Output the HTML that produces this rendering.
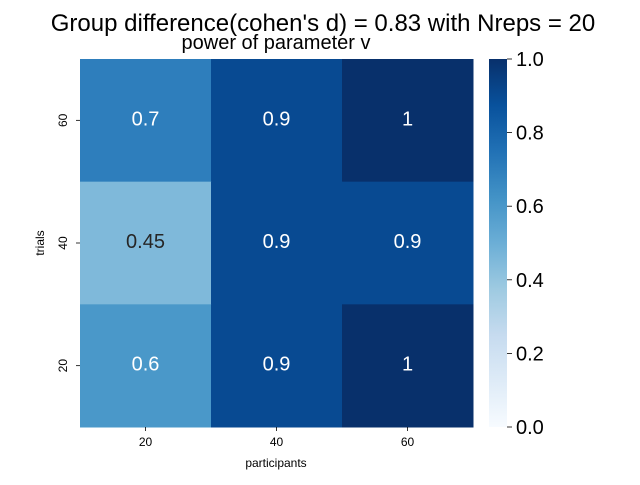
<!DOCTYPE html>
<html><head><meta charset="utf-8"><style>
body{margin:0;background:#fff;font-family:"Liberation Sans",Arial,sans-serif}
svg text{font-family:"Liberation Sans",Arial,sans-serif}
</style></head><body>
<svg id="chart" width="640" height="480" xmlns="http://www.w3.org/2000/svg">
<text x="323" y="31" font-size="24" text-anchor="middle" fill="#000">Group difference(cohen's d) = 0.83 with Nreps = 20</text>
<text x="276" y="49" font-size="20" text-anchor="middle" fill="#000">power of parameter v</text>
<g id="cells"></g>
<g id="axes"></g>
<defs><linearGradient id="cbgrad" x1="0" y1="1" x2="0" y2="0">
<stop offset="0" stop-color="#f7fbff"/><stop offset="0.125" stop-color="#deebf7"/><stop offset="0.25" stop-color="#c6dbef"/><stop offset="0.375" stop-color="#9ecae1"/><stop offset="0.5" stop-color="#6baed6"/><stop offset="0.625" stop-color="#4292c6"/><stop offset="0.75" stop-color="#2171b5"/><stop offset="0.875" stop-color="#08519c"/><stop offset="1" stop-color="#08306b"/>
</linearGradient></defs>
<rect x="489" y="59" width="18" height="368" fill="url(#cbgrad)"/>
<g id="cbticks"></g>
<text x="276" y="467" font-size="12" text-anchor="middle">participants</text>
<text x="44" y="243" font-size="12" text-anchor="middle" transform="rotate(-90 44 243)">trials</text>
</svg>
<script>
const participants=["20","40","60"];
const trials=["60","40","20"];
const values=[[0.7,0.9,1],[0.45,0.9,0.9],[0.6,0.9,1]];
const labels=[["0.7","0.9","1"],["0.45","0.9","0.9"],["0.6","0.9","1"]];
const cbTicks=[0,0.2,0.4,0.6,0.8,1.0];
const NS="http://www.w3.org/2000/svg";
const X0=80,X1=473,Y0=59,Y1=427;
const cw=(X1-X0)/participants.length, ch=(Y1-Y0)/trials.length;
const xPos=i=>X0+i*cw, yPos=j=>Y0+j*ch;
const cbY=v=>427-v*368;
const stops=[[0,[247,251,255]],[0.125,[222,235,247]],[0.25,[198,219,239]],[0.375,[158,202,225]],[0.5,[107,174,214]],[0.625,[66,146,198]],[0.75,[33,113,181]],[0.875,[8,81,156]],[1,[8,48,107]]];
function blues(v){for(let k=1;k<stops.length;k++){if(v<=stops[k][0]){const a=stops[k-1],b=stops[k],t=(v-a[0])/(b[0]-a[0]);return "rgb("+a[1].map((c,i)=>Math.round(c+(b[1][i]-c)*t)).join(",")+")";}}return "rgb(8,48,107)";}
function mk(t,attrs,txt){const e=document.createElementNS(NS,t);for(const k in attrs)e.setAttribute(k,attrs[k]);if(txt!==undefined)e.textContent=txt;return e;}
const cells=document.getElementById("cells"),axes=document.getElementById("axes"),cb=document.getElementById("cbticks");
trials.forEach((tr,j)=>{participants.forEach((p,i)=>{
 const v=values[j][i];
 const r=mk("rect",{x:xPos(i),y:yPos(j),width:cw+0.5,height:ch+0.5,fill:blues(v)});
 
 
 cells.appendChild(r);
 const t=mk("text",{x:xPos(i)+cw/2,y:yPos(j)+ch/2+5,"font-size":20,"text-anchor":"middle",fill:v>0.5?"#fff":"#262626"},labels[j][i]);
 
 
 cells.appendChild(t);
});});
participants.forEach((p,i)=>{
 const x=xPos(i)+cw/2;
 const l=mk("line",{x1:x,x2:x,y1:Y1,y2:Y1+4,stroke:"#000","stroke-width":0.8});
 
 
 axes.appendChild(l);
 const t=mk("text",{x:x,y:Y1+19,"font-size":12,"text-anchor":"middle"},p);
 
 
 axes.appendChild(t);
});
trials.forEach((tr,j)=>{
 const y=yPos(j)+ch/2;
 const l=mk("line",{x1:X0-4,x2:X0,y1:y,y2:y,stroke:"#000","stroke-width":0.8});
 
 
 axes.appendChild(l);
 const t=mk("text",{x:67,y:y,"font-size":12,"text-anchor":"middle",transform:"rotate(-90 67 "+y+")"},tr);
 
 
 axes.appendChild(t);
});
cbTicks.forEach(v=>{
 const y=cbY(v);
 const l=mk("line",{x1:507,x2:512,y1:y,y2:y,stroke:"#000","stroke-width":0.8});
 
 
 cb.appendChild(l);
 const t=mk("text",{x:516,y:y+7,"font-size":20},v.toFixed(1));
 
 
 cb.appendChild(t);
});
</script>
</body></html>
